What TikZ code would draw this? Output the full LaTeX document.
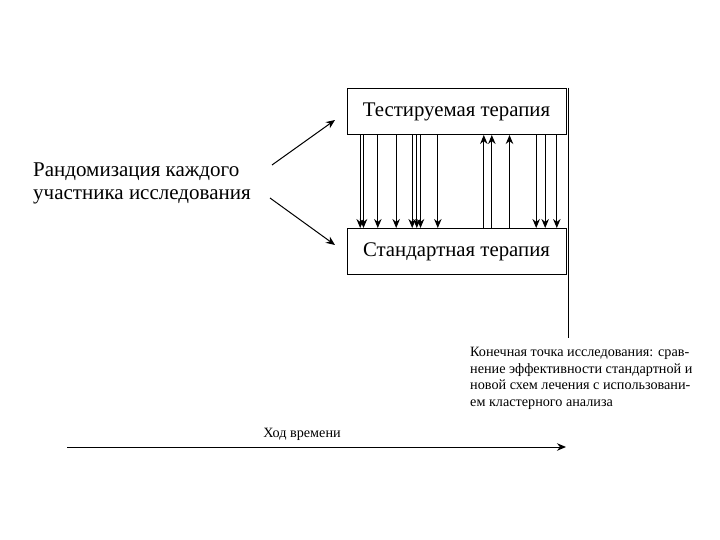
\documentclass[tikz,border=0pt]{standalone}
\usepackage{fontspec}
\setmainfont{Liberation Serif}
\usetikzlibrary{arrows.meta}
\begin{document}
\begin{tikzpicture}[x=1pt,y=-1pt,
  box/.style={draw,line width=1pt,minimum width=219pt,minimum height=46pt,inner sep=0pt,font=\fontsize{20.8}{23}\selectfont},
  flow/.style={line width=1pt,-{Stealth[length=9pt,width=7.5pt]}},
  lbl/.style={inner sep=0pt,font=\fontsize{14.2}{16.5}\selectfont}]
\useasboundingbox (0,0) rectangle (720,540);
\node[box] (test) at (456.5,111.5) {Тестируемая терапия};
\node[box] (std) at (456.5,251.5) {Стандартная терапия};
\node[inner sep=0pt,anchor=base west,align=left,font=\fontsize{21}{23}\selectfont] (rand) at (33,200) {Рандомизация каждого\\участника исследования};
\coordinate (a1s) at (272,165);
\coordinate (a1e) at (335,120);
\coordinate (a2s) at (270,198);
\coordinate (a2e) at (335,245);
\draw[flow] (a1s) -- (a1e);
\draw[flow] (a2s) -- (a2e);
\foreach \dx in {13.7,17,31.3,49.7,65.7,70.3,74,91.3,189.7,198.7,210.3}{
  \draw[flow] ([xshift=\dx pt]test.south west) -- ([xshift=\dx pt]std.north west);
}
\foreach \dx in {137.3,145.3,163}{
  \draw[flow] ([xshift=\dx pt]std.north west) -- ([xshift=\dx pt]test.south west);
}
\coordinate (vend) at (568,338);
\draw[line width=1pt] ([xshift=2pt]test.north east) -- ([xshift=2pt]test.north east |- vend);
\node[lbl,anchor=base west,align=left] (end) at (470,406) {Конечная точка исследования: срав-\\нение эффективности стандартной и\\новой схем лечения с использовани-\\ем кластерного анализа};
\coordinate (t0) at (67,447);
\coordinate (t1) at (566,447);
\draw[flow] (t0) -- (t1);
\node[lbl,anchor=base] (time) at (302,437) {Ход времени};
\end{tikzpicture}
\end{document}
